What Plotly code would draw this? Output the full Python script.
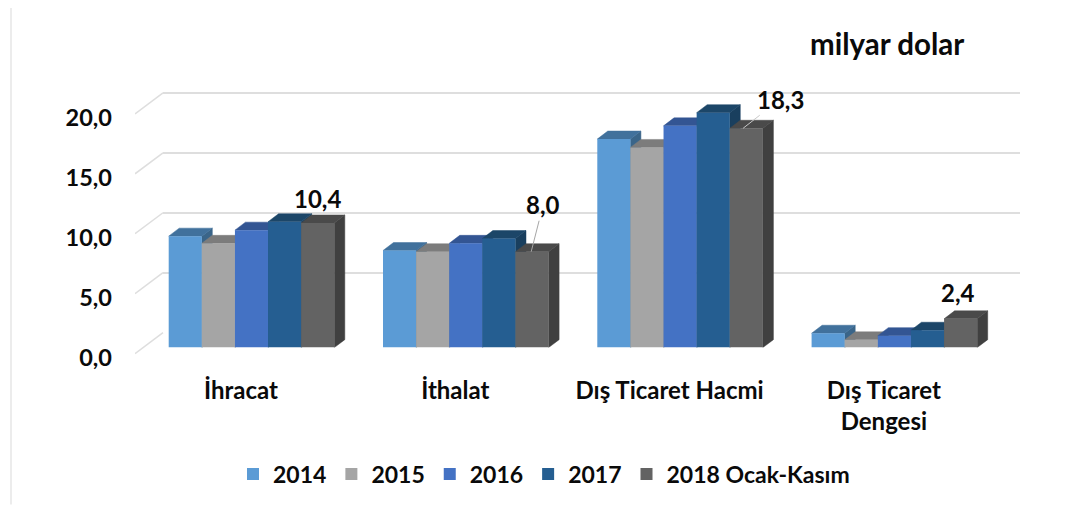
import plotly.graph_objects as go

W, H = 1073, 505
OX, OY = 8, 8     # offset of the figure inside the page
MB = 60           # bottom margin reserved for the legend
PH = H - MB
categories = ["İhracat", "İthalat", "Dış Ticaret Hacmi", "Dış Ticaret<br>Dengesi"]
years = ["2014", "2015", "2016", "2017", "2018 Ocak-Kasım"]
v2014 = [9.3, 8.1, 17.4, 1.2]
v2015 = [8.7, 8.0, 16.7, 0.65]
v2016 = [9.8, 8.7, 18.5, 1.0]
v2017 = [10.5, 9.1, 19.6, 1.45]
v2018 = [10.4, 8.0, 18.3, 2.4]
series = [v2014, v2015, v2016, v2017, v2018]
tick_vals = [0, 5, 10, 15, 20]
tick_text = ["0,0", "5,0", "10,0", "15,0", "20,0"]

front = ["#5B9BD5", "#A5A5A5", "#4472C4", "#255E91", "#636363"]
top = ["#41719C", "#7C7C7C", "#335593", "#1C4668", "#4A4A4A"]
side = ["#3A6589", "#6E6E6E", "#2D4E85", "#193F5E", "#404040"]
GRID = "#DEDEDE"
FONT = "Lato"
TXT = "#0A0A0A"

PX_X = 214.3   # px per category
PX_Y = 12.0    # px per value unit
group_w = 165.6 / PX_X
bar_w = group_w / 5
dep_x = 10.5 / PX_X
dep_y = 8.0 / PX_Y
LEFT, RIGHT, TOP = 135 - OX, 1020 - OX, 60
LABEL_C0 = 241
def rng_x(center0, left=LEFT):
    return [(left - (center0 - OX)) / PX_X, (RIGHT - (center0 - OX)) / PX_X]
def py(px):
    return 1 - (px - OY) / PH
def dom_y(base_px):
    return [py(base_px), py(TOP)]

fig = go.Figure()
idx = list(range(len(categories)))

fig.add_trace(go.Scatter(x=idx, y=[0] * 4, mode="markers", marker=dict(opacity=0),
                         showlegend=False, hoverinfo="skip", xaxis="x", yaxis="y"))
left_idx = rng_x(LABEL_C0)[0]
dx_wall = 28 / PX_X
dy_wall = 21 / PX_Y
d0 = 4 / PX_Y     # the label plane sits slightly below the start of the diagonals
for v in tick_vals:
    fig.add_trace(go.Scatter(x=[left_idx, left_idx + dx_wall], y=[v + d0, v + d0 + dy_wall], mode="lines",
                             line=dict(color=GRID, width=1.5), showlegend=False, hoverinfo="skip",
                             xaxis="x", yaxis="y", cliponaxis=False))
fig.add_trace(go.Scatter(x=[0], y=[0], mode="markers", marker=dict(opacity=0), showlegend=False,
                         hoverinfo="skip", xaxis="x2", yaxis="y2"))

for s, vals in enumerate(series):
    off = -group_w / 2 + s * bar_w
    tx, ty, sx, sy = [], [], [], []
    for i, v in zip(idx, vals):
        l = i + off
        r = l + bar_w
        tx += [l, r, r + dep_x, l + dep_x, l, None]
        ty += [v, v, v + dep_y, v + dep_y, v, None]
        sx += [r, r + dep_x, r + dep_x, r, r, None]
        sy += [0, dep_y, v + dep_y, v, 0, None]
    for xs, ys, c in ((sx, sy, side[s]), (tx, ty, top[s])):
        fig.add_trace(go.Scatter(x=xs, y=ys, mode="lines", fill="toself", fillcolor=c,
                                 line=dict(color=c, width=0.5), showlegend=False, hoverinfo="skip",
                                 xaxis="x3", yaxis="y3", zorder=2 * s))
    fig.add_trace(go.Bar(x=idx, y=vals, name=years[s], width=bar_w, offset=off,
                         marker=dict(color=front[s], line=dict(width=0)),
                         xaxis="x3", yaxis="y3", zorder=2 * s + 1))

last_off = -group_w / 2 + 4.5 * bar_w
lab = dict(xref="x3", yref="y3", font=dict(family=FONT, size=24, color=TXT, weight="bold"))
ann = [
    dict(x=0 + last_off, y=v2018[0], text="10,4", showarrow=False, yshift=24, **lab),
    dict(x=3 + last_off, y=v2018[3], text="2,4", showarrow=False, yshift=26, xshift=-3, **lab),
    dict(x=1 + last_off - 0.004, y=v2018[1], text="8,0", showarrow=True, arrowhead=0, arrowwidth=1,
         arrowcolor="#A6A6A6", ax=12, ay=-47, standoff=0, **lab),
    dict(x=2 + last_off - 0.015, y=v2018[2], text="18,3", showarrow=True, arrowhead=0, arrowwidth=1,
         arrowcolor="#C8C8C8", ax=37, ay=-29, standoff=0, **lab),
    dict(x=(886.5 - OX) / W, y=py(44), xref="paper", yref="paper", text="milyar dolar", showarrow=False,
         xanchor="center", yanchor="middle",
         font=dict(family=FONT, size=29.5, color=TXT, weight="bold")),
]

blank = dict(showgrid=False, zeroline=False, showticklabels=False, ticks="", showline=False, fixedrange=True)
fig.update_layout(
    width=W, height=H, margin=dict(l=0, r=0, t=0, b=MB), autosize=False,
    paper_bgcolor="white", plot_bgcolor="rgba(0,0,0,0)", barmode="overlay",
    font=dict(family=FONT, color=TXT),
    annotations=ann,
    shapes=[dict(type="line", xref="paper", yref="paper", x0=(11 - OX) / W, x1=(11 - OX) / W, y0=py(H), y1=1,
                 line=dict(color="#E6E6E6", width=1.5))],
    xaxis=dict(domain=[LEFT / W, RIGHT / W], range=rng_x(LABEL_C0), anchor="y", tickmode="array", tickvals=idx,
               ticktext=categories, showgrid=False, zeroline=False, showline=False, ticks="",
               ticklabelstandoff=16, tickangle=0, fixedrange=True, automargin=False,
               tickfont=dict(family=FONT, size=24, color=TXT, weight="bold")),
    yaxis=dict(domain=dom_y(358), range=[0, (358 - TOP) / PX_Y], anchor="x", tickmode="array",
               tickvals=tick_vals, ticktext=tick_text, showgrid=False, zeroline=False, showline=False,
               ticks="", ticklabelstandoff=22, fixedrange=True, automargin=False,
               tickfont=dict(family=FONT, size=23.5, color=TXT, weight="bold")),
    xaxis2=dict(domain=[(163 - OX) / W, RIGHT / W], range=[0, 1], anchor="y2", **blank),
    yaxis2=dict(domain=dom_y(333), range=[0, (333 - TOP) / PX_Y], anchor="x2", tickmode="array",
                tickvals=tick_vals, showgrid=True, gridcolor=GRID, gridwidth=1.5, zeroline=False,
                showticklabels=False, ticks="", showline=False, fixedrange=True),
    xaxis3=dict(domain=[LEFT / W, RIGHT / W], range=rng_x(251.5), anchor="y3", **blank),
    yaxis3=dict(domain=dom_y(348), range=[0, (348 - TOP) / PX_Y], anchor="x3", **blank),
    legend=dict(orientation="h", xref="container", yref="container", x=(233 - OX) / W, xanchor="left",
                y=1 - (474 - OY) / H, yanchor="middle",
                bgcolor="rgba(0,0,0,0)", font=dict(family=FONT, size=23, color=TXT, weight="bold")),
)
fig.write_html("out.html")
